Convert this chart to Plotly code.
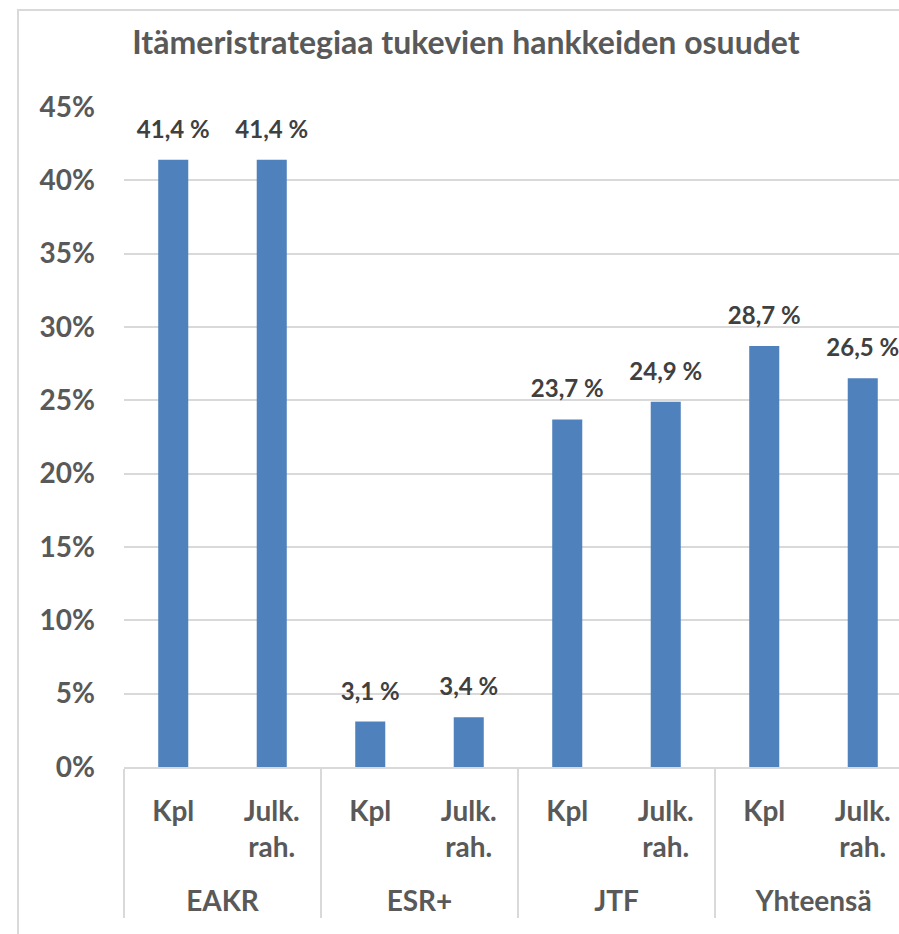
import plotly.graph_objects as go

groups = ["EAKR", "EAKR", "ESR+", "ESR+", "JTF", "JTF", "Yhteensä", "Yhteensä"]
measures = ["Kpl", "Julk.<br>rah.<br> ", "Kpl", "Julk.<br>rah.<br> ",
            "Kpl", "Julk.<br>rah.<br> ", "Kpl", "Julk.<br>rah.<br> "]
shares = [41.4, 41.4, 3.1, 3.4, 23.7, 24.9, 28.7, 26.5]
y_ticks = [0, 5, 10, 15, 20, 25, 30, 35, 40, 45]
title_text = "Itämeristrategiaa tukevien hankkeiden osuudet"

FONT = "Lato, Carlito, 'Open Sans', sans-serif"
labels = [f"{v:.1f}".replace(".", ",") + " %" for v in shares]
yvals = [v / 100 for v in shares]

fig = go.Figure()
fig.add_trace(go.Bar(
    x=[groups, measures],
    y=yvals,
    marker=dict(color="#4F81BD", line=dict(width=0)),
    hoverinfo="skip",
))
# data labels above the bars (transparent markers give the label offset)
fig.add_trace(go.Scatter(
    x=[groups, measures],
    y=yvals,
    mode="markers+text",
    text=labels,
    textposition="top center",
    cliponaxis=False,
    marker=dict(size=24, color="rgba(0,0,0,0)"),
    textfont=dict(family=FONT, size=24, color="#404040", weight="bold"),
    hoverinfo="skip",
))

# page body margin is removed by the post script: figure drawn at (0, 0)
OFF = 0
W, H = 899, 934
L, R, T, B = 124 - OFF, 0, 107 - OFF, H - (767 - OFF)
pw, ph = W - L - R, H - T - B

def px_x(p):
    return (p - OFF - L) / pw

def px_y(p):
    return (H - B - (p - OFF)) / ph

fig.update_layout(
    width=W, height=H,
    margin=dict(l=L, r=R, t=T, b=B, autoexpand=False),
    paper_bgcolor="white", plot_bgcolor="white",
    showlegend=False,
    bargap=0.695,
    title=dict(text=title_text, x=(466 - OFF) / W, xanchor="center",
               y=1 - (43 - OFF) / H, yanchor="middle",
               font=dict(family=FONT, size=32, color="#595959", weight="bold")),
    font=dict(family=FONT),
    shapes=[dict(type="rect", xref="paper", yref="paper",
                 x0=px_x(18), x1=px_x(960), y0=px_y(960), y1=px_y(10),
                 line=dict(color="#d9d9d9", width=2), layer="below")],
)
fig.update_xaxes(
    type="multicategory",
    range=[-0.5, 7.368],
    automargin=False,
    showline=True, linecolor="#d9d9d9", linewidth=2,
    showdividers=True, dividercolor="#d9d9d9", dividerwidth=2,
    tickfont=dict(family=FONT, size=28, color="#595959", weight="bold"),
    ticks="",
    ticklabelstandoff=18,
)
fig.update_yaxes(
    range=[0, 0.45],
    automargin=False,
    tickvals=[v / 100 for v in y_ticks],
    tickformat=".0%",
    showgrid=True, gridcolor="#d9d9d9", gridwidth=2,
    zeroline=False, showline=False,
    ticklabelstandoff=28,
    tickfont=dict(family=FONT, size=28, color="#595959", weight="bold"),
)

fig.write_html(
    "out.html",
    config={"displayModeBar": False},
    post_script="document.body.style.margin='0';"
                "document.documentElement.style.overflow='hidden';"
                "document.body.style.overflow='hidden';",
)
